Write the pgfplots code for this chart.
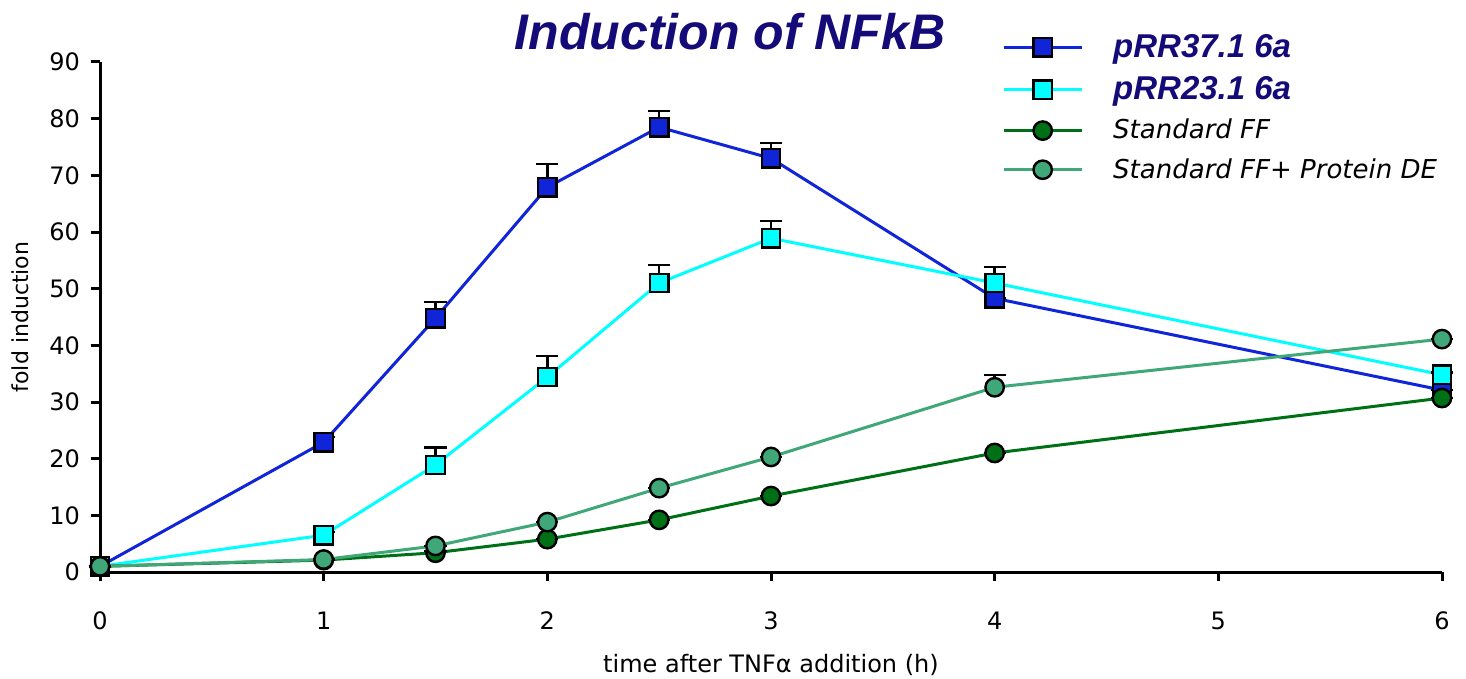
\documentclass[border=0pt]{standalone}
\usepackage{pgfplots}
\pgfplotsset{compat=1.18}
\usepackage{fontspec}
\setmainfont{DejaVu Sans}
\newfontfamily\titlefont{Liberation Sans}
\definecolor{tnavy}{RGB}{20,10,120}
\definecolor{cblue}{RGB}{16,36,216}
\definecolor{ccyan}{RGB}{0,255,255}
\definecolor{cdgreen}{RGB}{0,112,22}
\definecolor{clgreen}{RGB}{64,168,120}
\begin{document}
\begin{tikzpicture}
\path[use as bounding box] (-50bp,-53.5bp) rectangle (683bp,286bp);
\begin{axis}[
  scale only axis, width=671bp, height=255bp,
  xmin=0, xmax=6, ymin=0, ymax=90,
  axis lines=left, axis line style={-, line width=1.5bp, black},
  xtick={0,1,2,3,4,5,6}, ytick={0,10,...,90},
  tick style={black, line width=1.5bp},
  tick align=outside, major tick length=4.5bp,
  /pgf/number format/assume math mode=true,
  ticklabel style={font=\fontsize{12bp}{14bp}\selectfont},
  xticklabel style={yshift=-12bp},
  yticklabel style={xshift=-2bp},
  xlabel={time after TNFα addition (h)},
  label style={font=\fontsize{12bp}{14bp}\selectfont},
  xlabel style={at={(axis description cs:0.5,0)}, anchor=center, yshift=-46.5bp},
  clip=false,
  legend cell align=left,
  legend style={at={(axis description cs:0.672,1.055)}, anchor=north west, draw=none, fill=none,
    row sep=8.2bp, inner sep=0pt,
    nodes={inner xsep=15bp, inner ysep=0pt}},
  legend image code/.code={\draw[mark repeat=2,mark phase=2] plot coordinates {(0bp,0bp)(19.5bp,0bp)(39bp,0bp)};},
  every axis plot/.append style={line width=1.5bp},
  error bars/y dir=plus, error bars/y explicit,
  error bars/error bar style={black, line width=1.2bp},
  error bars/error mark options={rotate=90, mark size=5.5bp, black, line width=1.2bp},
]
\addplot[cblue, mark=square*, mark size=4.6bp, mark options={fill=cblue, draw=black, line width=1.2bp}]
  coordinates {(0,1) +- (0,0) (1,22.9) +- (0,0.9) (1.5,44.8) +- (0,2.8) (2,67.9) +- (0,4.1) (2.5,78.5) +- (0,2.8) (3,73) +- (0,2.7) (4,48.3) +- (0,0) (6,32.1) +- (0,0)};
\addlegendentry{\titlefont\bfseries\itshape\color{tnavy}\fontsize{16.5bp}{18bp}\selectfont pRR37.1 6a}
\addplot[ccyan, mark=square*, mark size=4.6bp, mark options={fill=ccyan, draw=black, line width=1.2bp}]
  coordinates {(0,1) +- (0,0) (1,6.5) +- (0,0.6) (1.5,18.9) +- (0,3.1) (2,34.4) +- (0,3.7) (2.5,51) +- (0,3.2) (3,58.9) +- (0,3.0) (4,51) +- (0,2.8) (6,34.8) +- (0,0.4)};
\addlegendentry{\titlefont\bfseries\itshape\color{tnavy}\fontsize{16.5bp}{18bp}\selectfont pRR23.1 6a}
\addplot[cdgreen, mark=*, mark size=4.6bp, mark options={fill=cdgreen, draw=black, line width=1.2bp}]
  coordinates {(0,1) +- (0,0) (1,2.1) +- (0,0) (1.5,3.4) +- (0,0.3) (2,5.8) +- (0,0) (2.5,9.2) +- (0,0) (3,13.4) +- (0,0) (4,21) +- (0,0) (6,30.7) +- (0,0)};
\addlegendentry{\itshape\fontsize{13bp}{15bp}\selectfont Standard FF}
\addplot[clgreen, mark=*, mark size=4.6bp, mark options={fill=clgreen, draw=black, line width=1.2bp}]
  coordinates {(0,1) +- (0,0) (1,2.2) +- (0,0) (1.5,4.6) +- (0,0) (2,8.8) +- (0,0) (2.5,14.8) +- (0,0) (3,20.3) +- (0,0) (4,32.6) +- (0,2.2) (6,41.1) +- (0,0)};
\addlegendentry{\itshape\fontsize{13bp}{15bp}\selectfont Standard FF+ Protein DE}
\node[font=\titlefont\bfseries\itshape\fontsize{25bp}{27bp}\selectfont, text=tnavy] at (axis description cs:0.4695,1.06) {Induction of NFkB};
\node[font=\fontsize{11bp}{13bp}\selectfont, rotate=90] at (axis description cs:-0.0596,0.5) {fold induction};
\end{axis}
\end{tikzpicture}
\end{document}
